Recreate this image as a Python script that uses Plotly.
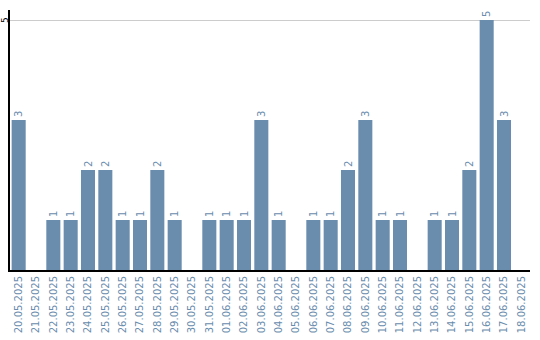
import plotly.graph_objects as go

dates = ["20.05.2025","21.05.2025","22.05.2025","23.05.2025","24.05.2025","25.05.2025",
         "26.05.2025","27.05.2025","28.05.2025","29.05.2025","30.05.2025","31.05.2025",
         "01.06.2025","02.06.2025","03.06.2025","04.06.2025","05.06.2025","06.06.2025",
         "07.06.2025","08.06.2025","09.06.2025","10.06.2025","11.06.2025","12.06.2025",
         "13.06.2025","14.06.2025","15.06.2025","16.06.2025","17.06.2025","18.06.2025"]
counts = [3,0,1,1,2,2,1,1,2,1,0,1,1,1,3,1,0,1,1,2,3,1,1,0,1,1,2,5,3,0]
y_tick = 5

bar_color = "#6a8cad"
labels = [str(v) if v > 0 else "" for v in counts]

fig = go.Figure(go.Bar(
    x=dates, y=counts, marker_color=bar_color, marker_line_width=0,
    text=labels, textposition="outside", textangle=-90,
    textfont=dict(color=bar_color, size=10, family="DejaVu Sans"),
    cliponaxis=False,
))
fig.update_layout(
    width=540, height=340,
    margin=dict(l=10, r=10, t=10, b=70),
    plot_bgcolor="white", paper_bgcolor="white",
    bargap=0.19, showlegend=False,
    font=dict(family="DejaVu Sans"),
)
fig.update_xaxes(
    type="category", showline=True, linecolor="black", linewidth=2,
    tickangle=-90, tickfont=dict(color=bar_color, size=10, family="DejaVu Sans"),
    ticks="", showgrid=False, automargin=False,
)
fig.update_yaxes(
    range=[0, 5.2], tickvals=[y_tick], showticklabels=False,
    showline=True, linecolor="black", linewidth=2, automargin=False,
    showgrid=True, gridcolor="#cccccc", gridwidth=1, zeroline=False, ticks="",
)
fig.add_annotation(
    x=-5 / 520, xref="paper", y=y_tick, yref="y", text=str(y_tick),
    showarrow=False, textangle=-90, xanchor="center", yanchor="middle",
    font=dict(color="black", size=9, family="DejaVu Sans"),
)
fig.write_html("out.html")
